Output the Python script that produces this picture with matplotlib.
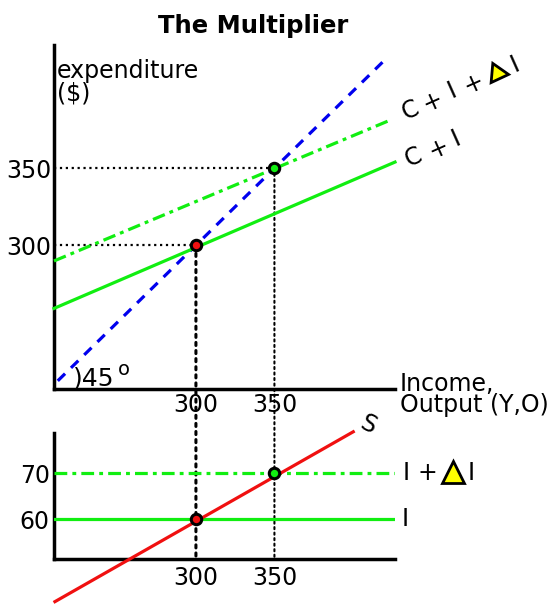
import matplotlib
matplotlib.use("Agg")
import matplotlib.pyplot as plt
from matplotlib.patches import ConnectionPatch

plt.rcParams['font.family'] = ['DejaVu Sans']

# ---- data ----
eq_income = [300, 350]          # equilibrium incomes
eq_spend = [300, 350]           # equilibrium expenditure
line45_x = [212, 422]
line45_y = [212, 422]
ci_x = [209.6, 426.8]
ci_y = [259, 354]
cid_x = [209.6, 424.6]
cid_y = [289.8, 381.6]

inv_x = [209.6, 426.8]
inv_I = 60
inv_IdI = 70
s_x = [210.2, 400.2]
s_y = [42.1, 79.0]
eq_inv = [60, 70]

top_ticks = [300, 350]
bot_yticks = [60, 70]

GREEN = '#11ee11'
RED = '#f01010'
BLUE = '#0000ee'
FS = 17

fig = plt.figure(figsize=(5.52, 6.04), dpi=100)
W, H = 552, 604
ax = fig.add_axes([54 / W, 1 - 389.3 / H, 341 / W, 344.3 / H])
ax2 = fig.add_axes([54 / W, 1 - 559.3 / H, 341 / W, 126.6 / H])
for a in (ax, ax2):
    a.set_facecolor('none')
    for s in ('top', 'right'):
        a.spines[s].set_visible(False)
    for s in ('left', 'bottom'):
        a.spines[s].set_linewidth(2.5)
    a.tick_params(length=0, labelsize=FS)

ax.set_xlim(209.6, 426.8)
ax.set_ylim(206.5, 430)
ax2.set_xlim(209.6, 426.8)
ax2.set_ylim(51.3, 78.8)

ax.set_xticks(top_ticks)
ax.set_yticks(eq_spend)
ax.tick_params(axis='x', pad=3)
ax.tick_params(axis='y', pad=2)
ax2.set_xticks(top_ticks)
ax2.set_yticks(bot_yticks)
ax2.tick_params(axis='x', pad=5)
ax2.tick_params(axis='y', pad=3)

DASHDOT = (0, (4, 1.6, 1.2, 1.6))

# ---- top chart ----
ax.plot(line45_x, line45_y, color=BLUE, lw=2.3, ls=(0, (3.2, 2.6)), clip_on=False, zorder=3)
ax.plot(ci_x, ci_y, color=GREEN, lw=2.3, clip_on=False, zorder=3)
ax.plot(cid_x, cid_y, color=GREEN, lw=2.3, ls=DASHDOT, clip_on=False, zorder=3)

# dotted guides
ax.plot([ax.get_xlim()[0], eq_income[0]], [eq_spend[0], eq_spend[0]], color='black', lw=1.6, ls=':', zorder=2)
ax.plot([ax.get_xlim()[0], eq_income[1]], [eq_spend[1], eq_spend[1]], color='black', lw=1.6, ls=':', zorder=2)
for xv, yv, lw in zip(eq_income, eq_spend, (2.2, 1.5)):
    con = ConnectionPatch(xyA=(xv, yv), coordsA=ax.transData,
                          xyB=(xv, ax2.get_ylim()[0]), coordsB=ax2.transData,
                          color='black', lw=lw, ls=':', zorder=2)
    ax.add_artist(con)
    con.set_clip_on(False)

ax.plot(eq_income[0], eq_spend[0], 'o', ms=7.5, mfc=RED, mec='black', mew=2.2, zorder=5)
ax.plot(eq_income[1], eq_spend[1], 'o', ms=7.5, mfc=GREEN, mec='black', mew=2.2, zorder=5)

fig.text(253 / W, 1 - 33 / H, 'The Multiplier', fontsize=17.5, fontweight='bold',
         ha='center', va='baseline')

ax.text(211.5, 408.4, 'expenditure', fontsize=FS, ha='left', va='baseline')
ax.text(211.5, 393.9, '($)', fontsize=FS, ha='left', va='baseline')
ax.text(430, 205.7, 'Income,', fontsize=FS, ha='left', va='baseline', clip_on=False)
ax.text(430, 191.6, 'Output (Y,O)', fontsize=FS, ha='left', va='baseline', clip_on=False)
ax.text(222, 209.1, ')45', fontsize=18, ha='left', va='baseline')
ax.text(250.4, 215.6, 'o', fontsize=14, ha='left', va='baseline')

rot = 24


def piece(a, x, y, s, r=rot, fs=FS):
    a.text(x, y, s, fontsize=fs, rotation=r, rotation_mode='anchor',
           ha='center', va='center', clip_on=False)


# "C + I"
piece(ax, 438.4, 357.3, 'C')
piece(ax, 454.3, 362.8, '+')
piece(ax, 465.6, 369.3, 'I')
# "C + I + ΔI"
piece(ax, 436.3, 387.7, 'C')
piece(ax, 451.1, 393.1, '+')
piece(ax, 462.9, 400.6, 'I')
piece(ax, 476.6, 405.0, '+')
ax.plot(491.5, 411.5, marker=(3, 0, 25), ms=16, mfc='yellow', mec='black', mew=2,
        clip_on=False, zorder=6)
piece(ax, 503.5, 417.8, 'I')

# ---- bottom chart ----
ax2.plot(inv_x, [inv_I, inv_I], color=GREEN, lw=2.3, zorder=3)
ax2.plot(inv_x, [inv_IdI, inv_IdI], color=GREEN, lw=2.3, ls=DASHDOT, zorder=3)
ax2.plot(s_x, s_y, color=RED, lw=2.3, clip_on=False, zorder=3)
ax2.plot(eq_income[0], eq_inv[0], 'o', ms=7.5, mfc=RED, mec='black', mew=2.2, zorder=5)
ax2.plot(eq_income[1], eq_inv[1], 'o', ms=7.5, mfc=GREEN, mec='black', mew=2.2, zorder=5)

piece(ax2, 409.6, 80.5, 'S', r=-25)
piece(ax2, 433.4, inv_I, 'I', r=0)
piece(ax2, 433.8, inv_IdI, 'I', r=0)
piece(ax2, 447.6, inv_IdI, '+', r=0)
ax2.plot(463.9, 70.3, marker='^', ms=16, mfc='yellow', mec='black', mew=2,
         clip_on=False, zorder=6)
piece(ax2, 475.5, inv_IdI, 'I', r=0)

fig.savefig('out.png', dpi=100)
